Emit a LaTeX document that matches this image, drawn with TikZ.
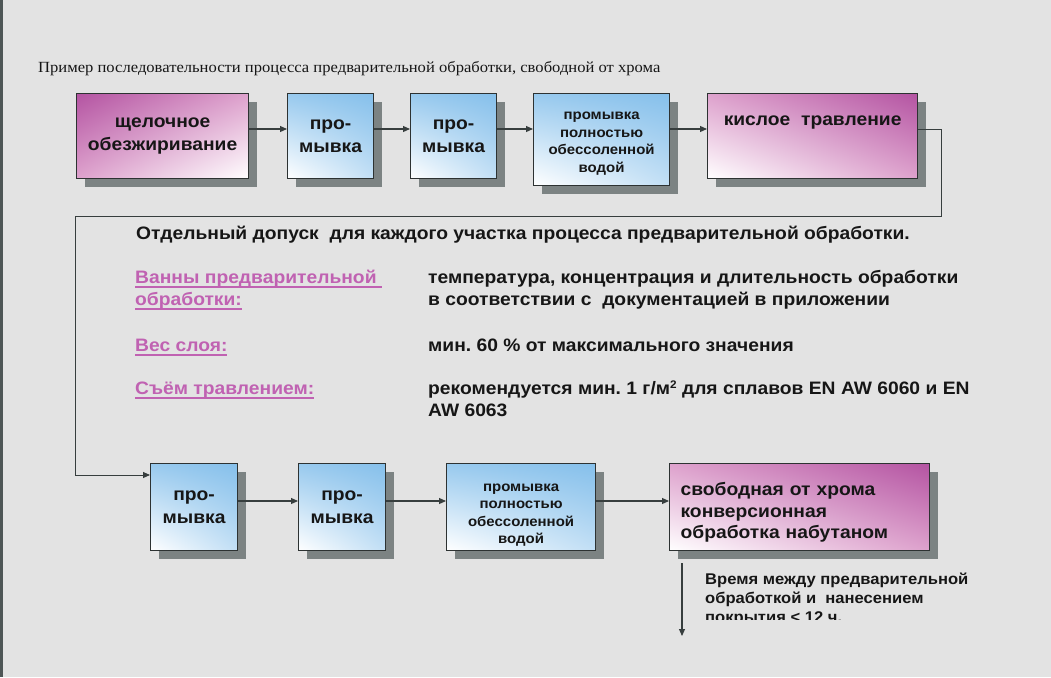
\documentclass[tikz,border=0pt]{standalone}
\usepackage{fontspec}
\setmainfont[FakeStretch=1.07]{Liberation Sans}
\newfontfamily\flowSerif[FakeStretch=1.07]{Liberation Serif}
\usetikzlibrary{
  arrows.meta,
  positioning,
  shadows,
  shadings
}
\definecolor{flowBg}{RGB}{227,227,227}
\definecolor{flowRule}{RGB}{78,86,86}
\definecolor{flowEdge}{RGB}{45,50,50}
\definecolor{flowLine}{RGB}{55,62,62}
\definecolor{flowShadow}{RGB}{124,131,131}
\definecolor{flowMagenta}{RGB}{180,84,162}
\definecolor{flowPink}{RGB}{222,162,205}
\definecolor{flowBlue}{RGB}{134,192,235}
\definecolor{flowSky}{RGB}{194,223,245}
\definecolor{flowKey}{RGB}{192,98,178}
\definecolor{flowInk}{RGB}{22,22,22}
\newsavebox\flowULbox
\newcommand{\flowUL}[1]{\sbox\flowULbox{#1}\rlap{\usebox\flowULbox}\rule[-4.6pt]{\wd\flowULbox}{1.6pt}}
\tikzset{
  flowBox/.style={
    rectangle,
    draw=flowEdge,
    line width=1.2pt,
    text=flowInk,
    align=center,
    inner sep=0pt,
    anchor=north west,
    drop shadow={shadow xshift=8pt, shadow yshift=-8pt,
      fill=flowShadow, opacity=1}
  },
  flowPinkA/.style={
    flowBox,
    upper left=flowMagenta,
    upper right=flowPink,
    lower left=flowPink,
    lower right=white
  },
  flowPinkB/.style={
    flowBox,
    upper left=flowPink,
    upper right=flowMagenta,
    lower left=white,
    lower right=flowPink
  },
  flowBlueBox/.style={
    flowBox,
    upper left=flowBlue!85!white,
    upper right=flowBlue,
    lower left=white,
    lower right=flowSky
  },
  flowBig/.style={font=\bfseries\fontsize{18}{23}\selectfont},
  flowSmall/.style={font=\bfseries\fontsize{14}{17.5}\selectfont},
  flowText/.style={
    anchor=base west,
    inner sep=0pt,
    text=flowInk,
    font=\bfseries\fontsize{18}{22}\selectfont
  },
  flowLabel/.style={
    flowText,
    text=flowKey
  },
  flowArrow/.style={
    -{Triangle[length=7pt,width=6pt]},
    line width=1.1pt,
    draw=flowLine
  }
}
\frenchspacing

\begin{document}
\begin{tikzpicture}[x=1pt,y=-1pt]
  % backdrop
  \fill[flowBg] (0,0) rectangle (1051,677);
  \fill[flowRule] (0,0) rectangle (3,677);

  \node[anchor=base west, inner sep=0pt, text=flowInk,
    font=\flowSerif\fontsize{15.5}{18}\selectfont] (caption) at (38,72)
    {Пример последовательности процесса предварительной обработки, свободной от хрома};

  % first row
  \node[flowPinkA, flowBig, minimum width=172pt, minimum height=85pt]
    (degrease) at (76,93) {щелочное\\обезжиривание};
  \node[flowBlueBox, flowBig, minimum width=86pt, minimum height=85pt]
    (rinseA) at (287,93) {про-\\мывка};
  \node[flowBlueBox, flowBig, minimum width=86pt, minimum height=85pt]
    (rinseB) at (410,93) {про-\\мывка};
  \node[flowBlueBox, flowSmall, minimum width=136pt, minimum height=92pt]
    (deionA) at (533,93) {\rule{0pt}{16pt}промывка\\полностью\\обессоленной\\водой};
  \node[flowPinkB, minimum width=210pt, minimum height=85pt]
    (etch) at (707,93) {};
  \node[flowBig, anchor=base, inner sep=0pt, text=flowInk]
    (etchLabel) at ([yshift=-32pt]etch.north) {кислое\ \ травление};

  \coordinate (rowA) at (0,129);
  \draw[flowArrow] (degrease.east |- rowA) -- (rinseA.west |- rowA);
  \draw[flowArrow] (rinseA.east |- rowA) -- (rinseB.west |- rowA);
  \draw[flowArrow] (rinseB.east |- rowA) -- (deionA.west |- rowA);
  \draw[flowArrow] (deionA.east |- rowA) -- (etch.west |- rowA);

  % tolerances
  \node[flowText] (admission) at (136,239)
    {Отдельный допуск\ \ для каждого участка процесса предварительной обработки.};
  \node[flowLabel] (bathKey) at (135,283)
    {\begin{tabular}[t]{@{}l@{}}\flowUL{Ванны предварительной\ }\\\flowUL{обработки:}\end{tabular}};
  \node[flowText] (bathVal) at (428,283)
    {\begin{tabular}[t]{@{}l@{}}температура, концентрация и длительность обработки\\в соответствии с\ \ документацией в приложении\end{tabular}};
  \node[flowLabel] (layerKey) at (135,351) {\flowUL{Вес слоя:}};
  \node[flowText] (layerVal) at (428,351) {мин. 60 \% от максимального значения};
  \node[flowLabel] (pickleKey) at (135,394) {\flowUL{Съём травлением:}};
  \node[flowText] (pickleVal) at (428,394)
    {\begin{tabular}[t]{@{}l@{}}рекомендуется мин. 1 г/м{\fontsize{11}{11}\selectfont\raisebox{6pt}{2}} для сплавов EN AW 6060 и EN\\AW 6063\end{tabular}};

  % second row
  \node[flowBlueBox, flowBig, minimum width=87pt, minimum height=87pt]
    (rinseC) at (150,463) {про-\\мывка};
  \node[flowBlueBox, flowBig, minimum width=87pt, minimum height=87pt]
    (rinseD) at (298,463) {про-\\мывка};
  \node[flowBlueBox, flowSmall, minimum width=149pt, minimum height=87pt]
    (deionB) at (446,463) {\rule{0pt}{24pt}промывка\\полностью\\обессоленной\\водой};
  \node[flowPinkB, flowBig, align=left, text width=238pt, inner xsep=11pt,
    minimum width=260pt, minimum height=87pt, font=\bfseries\fontsize{18}{21.5}\selectfont]
    (convert) at (669,463) {\rule{0pt}{24pt}свободная от хрома\\конверсионная\\обработка набутаном};

  \coordinate (rowB) at (0,501);
  \coordinate (loopNE) at (941,216);
  \coordinate (loopSW) at (75,475);
  \draw[flowArrow, line width=0.9pt] (etch.east |- rowA) -| (loopNE) -| (loopSW)
    -- (rinseC.west |- loopSW);
  \draw[flowArrow] (rinseC.east |- rowB) -- (rinseD.west |- rowB);
  \draw[flowArrow] (rinseD.east |- rowB) -- (deionB.west |- rowB);
  \draw[flowArrow] (deionB.east |- rowB) -- (convert.west |- rowB);

  % outlet
  \coordinate (outlet) at (682,636);
  \draw[flowArrow] (outlet |- 0,563) -- (outlet);
  \begin{scope}
    \clip (0,0) rectangle (1051,619);
    \node[flowText, font=\bfseries\fontsize{15.5}{19}\selectfont] (delay) at (705,584)
      {\begin{tabular}[t]{@{}l@{}}Время между предварительной\\обработкой и\ \ нанесением\\покрытия < 12 ч.\end{tabular}};
  \end{scope}
\end{tikzpicture}
\end{document}
